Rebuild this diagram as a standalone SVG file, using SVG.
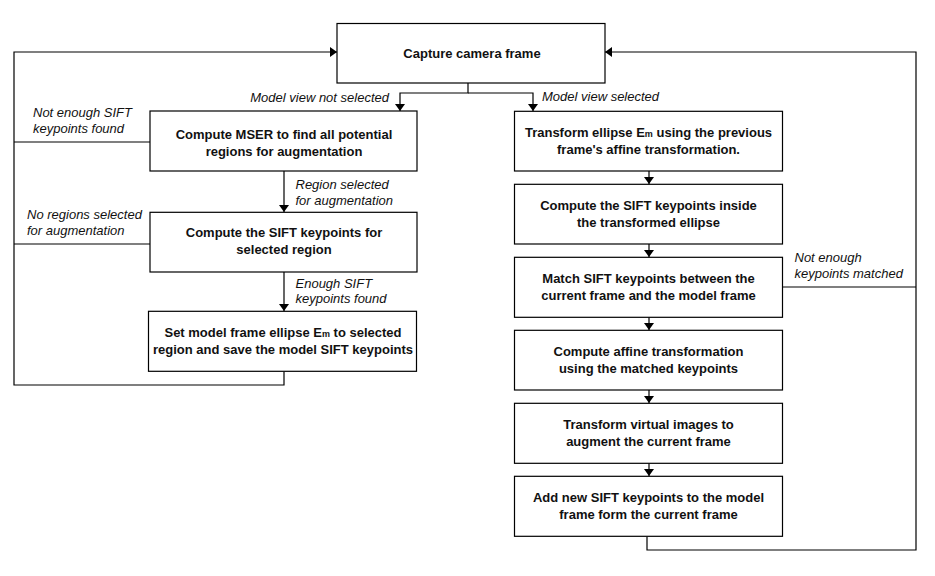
<svg xmlns="http://www.w3.org/2000/svg" width="935" height="576" viewBox="0 0 935 576">
<defs>
<marker id="ah" markerWidth="7" markerHeight="10" viewBox="0 0 7 10" refX="7" refY="5" orient="auto" markerUnits="userSpaceOnUse">
<path d="M0,0 L7,5 L0,10 Z" fill="#000"/>
</marker>
<style>
.box{fill:#fff;stroke:#000;stroke-width:1.2}
.t{font-family:"Liberation Sans",Arial,sans-serif;font-weight:bold;font-size:13px;fill:#111;text-anchor:middle}
.l{font-family:"Liberation Sans",Arial,sans-serif;font-style:italic;font-size:13px;fill:#111}
.c{fill:none;stroke:#000;stroke-width:1.2}
.sub{font-size:9px}
</style>
</defs>
<rect width="935" height="576" fill="#fff"/>

<g id="connectors">
<path class="c" d="M14,142 H150"/>
<path class="c" d="M14,244 H150"/>
<path class="c" d="M284,371.5 V385 H14 V52 H337" marker-end="url(#ah)"/>
<path class="c" d="M468,83 V93 H400 V111" marker-end="url(#ah)"/>
<path class="c" d="M468,93 H533 V111" marker-end="url(#ah)"/>
<path class="c" d="M284,171 V212" marker-end="url(#ah)"/>
<path class="c" d="M284,272 V311" marker-end="url(#ah)"/>
<path class="c" d="M649,171 V184" marker-end="url(#ah)"/>
<path class="c" d="M649,244 V257" marker-end="url(#ah)"/>
<path class="c" d="M649,317 V330" marker-end="url(#ah)"/>
<path class="c" d="M649,390 V403" marker-end="url(#ah)"/>
<path class="c" d="M649,463 V476" marker-end="url(#ah)"/>
<path class="c" d="M782,287 H916"/>
<path class="c" d="M647,536.5 V550 H916 V52 H605" marker-end="url(#ah)"/>
<text class="l" x="389" y="101.5" text-anchor="end">Model view not selected</text>
<text class="l" x="542" y="101">Model view selected</text>
<text class="l" x="33" y="117">Not enough SIFT</text>
<text class="l" x="33" y="132.5">keypoints found</text>
<text class="l" x="295.5" y="189">Region selected</text>
<text class="l" x="295.5" y="204.5">for augmentation</text>
<text class="l" x="27" y="219">No regions selected</text>
<text class="l" x="27" y="234.5">for augmentation</text>
<text class="l" x="295.5" y="287.5">Enough SIFT</text>
<text class="l" x="295.5" y="303">keypoints found</text>
<text class="l" x="794.5" y="262">Not enough</text>
<text class="l" x="794.5" y="277.5">keypoints matched</text>
</g>

<g id="capture">
<rect class="box" x="337" y="23.5" width="268" height="59.5"/>
<text class="t" x="472" y="57.5">Capture camera frame</text>
</g>

<g id="mser">
<rect class="box" x="150" y="111" width="267" height="60"/>
<text class="t" x="284" y="138.5">Compute MSER to find all potential</text>
<text class="t" x="284" y="156">regions for augmentation</text>
</g>

<g id="sift-region">
<rect class="box" x="150" y="212.3" width="267" height="59.7"/>
<text class="t" x="284" y="237">Compute the SIFT keypoints for</text>
<text class="t" x="284" y="254">selected region</text>
</g>

<g id="set-model">
<rect class="box" x="148.5" y="311.3" width="268" height="60"/>
<text class="t" x="283" y="337">Set model frame ellipse E<tspan class="sub">m</tspan> to selected</text>
<text class="t" x="283" y="354">region and save the model SIFT keypoints</text>
</g>

<g id="transform-ellipse">
<rect class="box" x="514.5" y="111.3" width="268" height="59.7"/>
<text class="t" x="648.5" y="137">Transform ellipse E<tspan class="sub">m</tspan> using the previous</text>
<text class="t" x="648.5" y="154">frame's affine transformation.</text>
</g>

<g id="sift-ellipse">
<rect class="box" x="514.5" y="184.3" width="268" height="59.7"/>
<text class="t" x="648.5" y="210">Compute the SIFT keypoints inside</text>
<text class="t" x="648.5" y="227">the transformed ellipse</text>
</g>

<g id="match">
<rect class="box" x="514.5" y="257.3" width="268" height="60"/>
<text class="t" x="648.5" y="283">Match SIFT keypoints between the</text>
<text class="t" x="648.5" y="300">current frame and the model frame</text>
</g>

<g id="affine">
<rect class="box" x="514.5" y="330.3" width="268" height="59.7"/>
<text class="t" x="648.5" y="355.5">Compute affine transformation</text>
<text class="t" x="648.5" y="372.5">using the matched keypoints</text>
</g>

<g id="virtual">
<rect class="box" x="514.5" y="403.3" width="268" height="60"/>
<text class="t" x="648.5" y="428.5">Transform virtual images to</text>
<text class="t" x="648.5" y="445.5">augment the current frame</text>
</g>

<g id="add-sift">
<rect class="box" x="514.5" y="476.3" width="268" height="60"/>
<text class="t" x="648.5" y="501.5">Add new SIFT keypoints to the model</text>
<text class="t" x="648.5" y="518.5">frame form the current frame</text>
</g>
</svg>
